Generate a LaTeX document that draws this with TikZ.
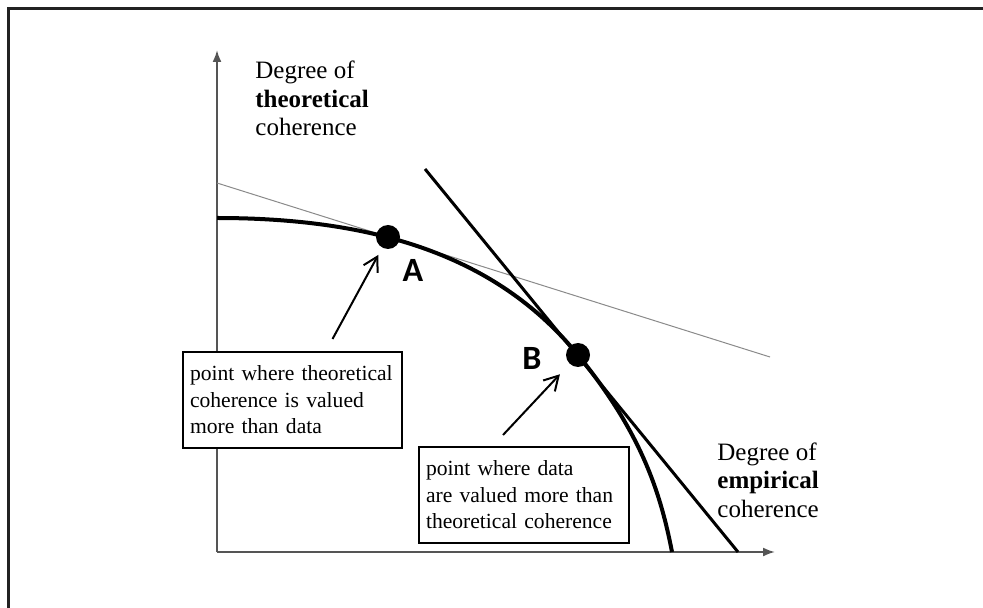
\documentclass[tikz,border=0pt]{standalone}
\usepackage{fontspec}
\setmainfont{Liberation Serif}
\newfontfamily\labelfont{Carlito}
\definecolor{axisGrey}{HTML}{555555}
\definecolor{lineGrey}{HTML}{8A8A8A}
\definecolor{frameDark}{HTML}{222222}
\usetikzlibrary{arrows.meta, calc}
\hyphenpenalty=10000\relax
\exhyphenpenalty=10000\relax

\begin{document}
\begin{tikzpicture}[
        x=0.5pt, y=-0.5pt,
        axis/.style={-{Latex[length=6pt, width=4.5pt]}, line width=1pt, axisGrey},
        frontier/.style={line width=2pt, black},
        tangent/.style={line width=1.5pt, black},
        dot/.style={circle, fill=black, inner sep=0pt, minimum size=12pt},
        axislabel/.style={anchor=north west, inner sep=0pt, align=left, font=\fontsize{12.5}{14.25}\selectfont},
        note/.style={draw, fill=white, line width=1pt, anchor=north west, align=left, text width=102.5pt,
                     inner xsep=3.5pt, inner ysep=7pt, font=\fontsize{10.8}{13.25}\selectfont},
        pointlabel/.style={font=\labelfont\bfseries\fontsize{17}{20}\selectfont},
        pointer/.style={-{Straight Barb[length=7pt, width=8pt]}, line width=1pt}
      ]
        \useasboundingbox (0,0) rectangle (983,608);
        \draw[line width=1.5pt, frameDark] (8,608) -- (8,9) -- (983,9);

        % axes
        \coordinate (O) at (217,552);
        \draw[axis] (O) -- (217,50);
        \draw[axis] (O) -- (775,552);
        \node[axislabel] (ylabel) at (255,61) {Degree of\\\textbf{theoretical}\\coherence};
        \node[axislabel] (xlabel) at (717,442) {Degree of\\\textbf{empirical}\\coherence};

        % tangents and frontier
        \draw[line width=0.5pt, lineGrey] (217,183) -- (770,357);
        \draw[tangent] (425,169) -- (738,552);
        \node[dot] (dotA) at (388,237) {};
        \node[dot] (dotB) at (578,355) {};
        \draw[frontier] (217,218) .. controls (387,218) and (502,262) .. (dotB.center)
                        .. controls (640,431) and (660,490) .. (672,552);
        \node[pointlabel] (labA) at (413,270) {A};
        \node[pointlabel] (labB) at (532,358) {B};

        % notes
        \node[note] (noteA) at (182,351) {point where theoretical\\coherence is valued\\more than data};
        \node[note, text width=98pt] (noteB) at (418,446) {point where data\\are valued more than\\theoretical coherence};
        \draw[pointer, shorten >=4pt] ($(noteA.north)+(40,-12)$) -- (dotA);
        \draw[pointer, shorten >=7pt] ($(noteB.north)+(-21,-11)$) -- (dotB);
      \end{tikzpicture}
\end{document}
